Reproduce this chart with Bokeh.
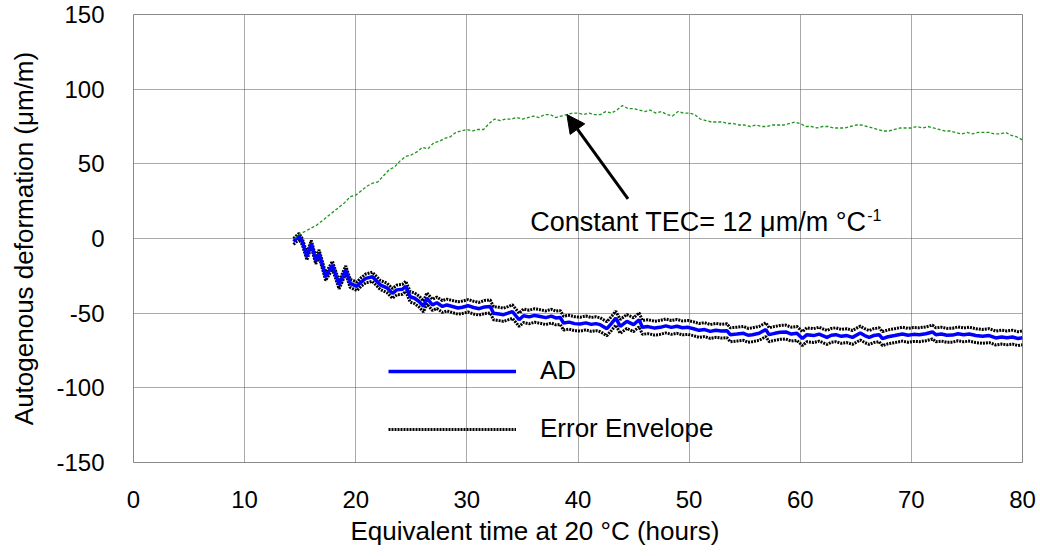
from bokeh.plotting import figure
from bokeh.models import (FixedTicker, Legend, LegendItem, Label, Arrow,
                          NormalHead, Title, Range1d)
from bokeh.embed import file_html
from bokeh.resources import INLINE

# ---------------- data ----------------
t_ad = [14.4, 14.9, 15.2, 15.6, 16.0, 16.4, 16.7, 17.3, 17.9, 18.5,
        19.1, 19.5, 20.1, 20.5, 20.9, 21.5, 22.2, 22.8, 23.3, 23.7,
        24.2, 24.5, 24.9, 25.3, 25.7, 26.1, 26.4, 26.9, 27.3, 27.8,
        28.2, 28.7, 29.2, 29.6, 30.1, 30.6, 31.1, 31.6, 32.1, 32.4,
        32.9, 33.3, 33.7, 34.1, 34.7, 35.1, 35.6, 36.1, 36.6, 37.1,
        37.6, 38.0, 38.4, 38.7, 39.2, 39.7, 40.2, 40.7, 41.2, 41.6,
        42.0, 42.6, 43.0, 43.4, 43.8, 44.4, 45.0, 45.5, 45.8, 46.3,
        46.9, 47.4, 47.9, 48.4, 48.9, 49.4, 49.9, 50.4, 50.9, 51.4,
        51.9, 52.4, 52.9, 53.4, 53.7, 54.3, 54.9, 55.3, 55.7, 56.3,
        56.9, 57.2, 57.7, 58.2, 58.7, 59.2, 59.7, 60.2, 60.6, 61.2,
        61.7, 62.4, 62.8, 63.2, 63.7, 64.2, 64.7, 65.4, 65.8, 66.2,
        66.6, 67.1, 67.4, 67.9, 68.5, 69.2, 69.7, 70.2, 70.7, 71.3,
        71.9, 72.2, 72.7, 73.2, 73.7, 74.2, 74.7, 75.2, 75.8, 76.4,
        77.0, 77.6, 78.1, 78.6, 79.1, 79.6, 80.0]

ad = [-2.0, 1.5, -2.3, -12.0, -3.5, -14.5, -10.0, -25.6, -17.8, -31.0,
      -21.0, -30.0, -32.0, -29.0, -26.7, -25.6, -31.0, -33.0, -36.7, -34.4,
      -34.0, -32.0, -39.0, -40.0, -42.2, -45.5, -40.0, -44.4, -43.0, -45.5,
      -44.5, -45.5, -46.5, -46.0, -45.0, -46.2, -47.0, -45.8, -45.5, -50.0,
      -50.5, -51.0, -50.0, -48.9, -54.4, -51.7, -52.5, -51.5, -52.2, -53.0,
      -52.0, -53.2, -52.9, -56.6, -56.0, -57.0, -57.3, -56.5, -57.5, -57.0,
      -57.7, -60.4, -57.0, -53.3, -58.8, -55.5, -57.7, -54.4, -59.5, -59.0,
      -60.0, -59.5, -58.5, -59.5, -58.8, -59.8, -59.5, -60.4, -61.5, -61.0,
      -62.2, -61.5, -62.0, -61.7, -64.4, -64.0, -63.5, -64.8, -64.4, -63.5,
      -61.0, -64.4, -63.5, -62.8, -62.6, -64.0, -63.5, -67.0, -64.4, -65.0,
      -64.0, -66.2, -64.8, -64.4, -65.5, -65.0, -66.2, -63.3, -65.0, -66.2,
      -65.0, -64.4, -67.0, -65.8, -65.0, -64.0, -64.8, -64.2, -64.4, -63.8,
      -62.6, -64.4, -64.0, -64.8, -64.7, -63.8, -64.5, -64.0, -65.0, -65.5,
      -65.0, -66.6, -66.0, -66.5, -66.0, -67.0, -66.5]

env_upper = [0.0, 3.5, -0.3, -9.8, -1.3, -12.2, -7.6, -23.2, -15.3, -28.4,
             -18.4, -27.3, -29.2, -26.1, -23.8, -22.6, -28.0, -29.9, -33.5, -31.2,
             -30.7, -28.6, -35.5, -36.5, -38.6, -41.9, -36.4, -40.7, -39.2, -41.6,
             -40.6, -41.5, -42.4, -41.9, -40.9, -42.0, -42.8, -41.5, -41.2, -45.7,
             -46.1, -46.6, -45.6, -44.4, -50.0, -47.2, -48.0, -47.0, -47.7, -48.5,
             -47.4, -48.6, -48.3, -52.0, -51.4, -52.4, -52.7, -51.9, -52.9, -52.4,
             -53.1, -55.8, -52.4, -48.7, -54.2, -50.9, -53.1, -49.8, -54.9, -54.4,
             -55.4, -54.9, -53.9, -54.9, -54.2, -55.2, -54.9, -55.8, -56.9, -56.4,
             -57.6, -56.9, -57.4, -57.1, -59.8, -59.4, -58.9, -60.2, -59.8, -58.9,
             -56.4, -59.8, -58.9, -58.2, -58.0, -59.4, -58.9, -62.4, -59.8, -60.4,
             -59.4, -61.6, -60.2, -59.8, -60.9, -60.4, -61.6, -58.7, -60.4, -61.6,
             -60.4, -59.8, -62.4, -61.2, -60.4, -59.4, -60.2, -59.6, -59.8, -59.2,
             -58.0, -59.8, -59.4, -60.2, -60.1, -59.2, -59.9, -59.4, -60.4, -60.9,
             -60.4, -62.0, -61.4, -61.9, -61.4, -62.4, -61.9]

env_lower = [-4.0, -0.5, -4.5, -14.3, -5.8, -16.9, -12.5, -28.1, -20.4, -33.7,
             -23.7, -32.8, -34.9, -31.9, -29.7, -28.7, -34.1, -36.2, -40.0, -37.7,
             -37.4, -35.4, -42.6, -43.6, -45.9, -49.2, -43.7, -48.2, -46.9, -49.5,
             -48.5, -49.6, -50.7, -50.2, -49.2, -50.5, -51.3, -50.2, -49.9, -54.4,
             -55.0, -55.5, -54.5, -53.4, -58.9, -56.3, -57.1, -56.1, -56.8, -57.6,
             -56.6, -57.8, -57.5, -61.3, -60.7, -61.7, -62.0, -61.2, -62.2, -61.7,
             -62.4, -65.1, -61.7, -58.0, -63.5, -60.2, -62.4, -59.1, -64.2, -63.7,
             -64.7, -64.2, -63.2, -64.2, -63.5, -64.5, -64.2, -65.1, -66.2, -65.7,
             -66.9, -66.2, -66.7, -66.4, -69.1, -68.7, -68.2, -69.5, -69.1, -68.2,
             -65.7, -69.1, -68.2, -67.5, -67.3, -68.7, -68.2, -71.7, -69.1, -69.7,
             -68.7, -70.9, -69.5, -69.1, -70.2, -69.7, -70.9, -68.0, -69.7, -70.9,
             -69.7, -69.1, -71.7, -70.5, -69.7, -68.7, -69.5, -68.9, -69.1, -68.5,
             -67.3, -69.1, -68.7, -69.5, -69.4, -68.5, -69.2, -68.7, -69.7, -70.2,
             -69.7, -71.3, -70.7, -71.2, -70.7, -71.7, -71.2]

t_tec = [14.5, 15.0, 15.5, 16.0, 16.5, 17.0, 17.5, 18.0, 18.5, 19.0,
         19.5, 20.0, 20.5, 21.0, 21.5, 22.0, 22.5, 23.0, 23.5, 24.0,
         24.5, 25.0, 25.5, 26.0, 26.5, 27.0, 27.5, 28.0, 28.5, 29.0,
         29.5, 30.0, 30.5, 31.0, 31.5, 32.0, 32.5, 33.0, 33.5, 34.0,
         34.5, 35.0, 35.5, 36.0, 36.5, 37.0, 37.5, 38.0, 38.5, 39.0,
         39.5, 40.0, 40.5, 41.0, 41.5, 42.0, 42.5, 43.0, 43.5, 44.0,
         44.5, 45.0, 45.5, 46.0, 46.5, 47.0, 47.5, 48.0, 48.5, 49.0,
         49.5, 50.0, 50.5, 51.0, 51.5, 52.0, 52.5, 53.0, 53.5, 54.0,
         54.5, 55.0, 55.5, 56.0, 56.5, 57.0, 57.5, 58.0, 58.5, 59.0,
         59.5, 60.0, 60.5, 61.0, 61.5, 62.0, 62.5, 63.0, 63.5, 64.0,
         64.5, 65.0, 65.5, 66.0, 66.5, 67.0, 67.5, 68.0, 68.5, 69.0,
         69.5, 70.0, 70.5, 71.0, 71.5, 72.0, 72.5, 73.0, 73.5, 74.0,
         74.5, 75.0, 75.5, 76.0, 76.5, 77.0, 77.5, 78.0, 78.5, 79.0,
         79.5, 80.0]

ad_const_tec = [0, 3, 5, 7, 9, 12, 15, 18, 21, 24,
                28, 29, 32, 35, 37, 38, 42, 46, 48, 52,
                55, 56, 58, 61, 60, 64, 65, 67, 68, 71,
                72, 73, 72, 73, 73, 77, 80, 79, 80, 80,
                81, 80, 81, 82, 81, 83, 83, 81, 82, 83,
                84, 84, 83, 84, 83, 83, 85, 84, 86, 89,
                87, 87, 86, 85, 86, 84, 85, 83, 82, 85,
                84, 84, 83, 80, 79, 78, 78, 78, 77, 77,
                76, 76, 75, 76, 75, 75, 76, 76, 76, 77,
                78, 77, 75, 75, 74, 75, 75, 74, 74, 74,
                75, 76, 76, 75, 74, 73, 72, 72, 73, 74,
                74, 74, 75, 74, 75, 74, 73, 72, 72, 71,
                70, 71, 70, 71, 71, 71, 70, 70, 71, 69,
                68, 66]

x_ticks = [0, 10, 20, 30, 40, 50, 60, 70, 80]
y_ticks = [-150, -100, -50, 0, 50, 100, 150]
y_tick_labels = ["-150", "-100", "-50", "0", "50", "100", "150"]

annot_text = "Constant TEC= 12 \u03bcm/m \u00b0C"
annot_sup = "-1"
annot_pos = (35.7, 11.0)
arrow_from = (44.5, 26.5)
arrow_to = (39.0, 83.0)

FONT = "Liberation Sans"

# ---------------- figure ----------------
p = figure(width=1040, height=556, output_backend="svg", toolbar_location=None,
           x_range=Range1d(0, 80), y_range=Range1d(-150, 150),
           min_border_left=133, min_border_right=18, min_border_top=14,
           min_border_bottom=94, background_fill_color="white",
           border_fill_color="white")

p.outline_line_color = "#8a8a8a"
p.outline_line_width = 1

for ax in (p.xaxis[0], p.yaxis[0]):
    ax.axis_line_color = None
    ax.major_tick_line_color = None
    ax.minor_tick_line_color = None
    ax.major_label_text_font = FONT
    ax.major_label_text_font_size = "24px"
    ax.major_label_text_color = "black"

p.xaxis.ticker = FixedTicker(ticks=x_ticks)
p.yaxis.ticker = FixedTicker(ticks=y_ticks)
p.yaxis.major_label_overrides = {t: s for t, s in zip(y_ticks, y_tick_labels)}
p.xaxis.major_label_standoff = 22
p.yaxis.major_label_standoff = 23

p.yaxis.axis_label = "Autogenous deformation (\u03bcm/m)"
p.yaxis.axis_label_text_font = FONT
p.yaxis.axis_label_text_font_size = "26px"
p.yaxis.axis_label_text_font_style = "normal"
p.yaxis.axis_label_text_color = "black"
p.yaxis.axis_label_standoff = 14

p.add_layout(Title(text="Equivalent time at 20 \u00b0C (hours)", align="left",
                   offset=217, text_font=FONT, text_font_size="26px",
                   text_font_style="normal", text_color="black", standoff=6),
             "below")

p.xgrid.ticker = FixedTicker(ticks=x_ticks)
p.ygrid.ticker = FixedTicker(ticks=y_ticks)
for g in (p.xgrid[0], p.ygrid[0]):
    g.grid_line_color = "#555555"
    g.grid_line_dash = "1 1"
    g.grid_line_width = 1

# ---------------- series ----------------
r_up = p.line(t_ad, env_upper, line_color="black", line_width=3, line_dash="2 1")
r_lo = p.line(t_ad, env_lower, line_color="black", line_width=3, line_dash="2 1")
r_ad = p.line(t_ad, ad, line_color="#0000ff", line_width=3.5)
r_tec = p.line(t_tec, ad_const_tec, line_color="#1e961e", line_width=1.3,
               line_dash="3 2")

# ---------------- annotation ----------------
p.add_layout(Arrow(end=NormalHead(size=18, fill_color="black", line_color="black"),
                   x_start=arrow_from[0], y_start=arrow_from[1],
                   x_end=arrow_to[0], y_end=arrow_to[1],
                   line_color="black", line_width=3))
p.add_layout(Label(x=annot_pos[0], y=annot_pos[1], text=annot_text,
                   text_font=FONT, text_font_size="27px", text_color="black",
                   text_baseline="middle", text_align="left"))
p.add_layout(Label(x=annot_pos[0], y=annot_pos[1], text=annot_sup,
                   x_offset=337, y_offset=7,
                   text_font=FONT, text_font_size="16px", text_color="black",
                   text_baseline="middle", text_align="left"))

# ---------------- legend ----------------
legend = Legend(items=[LegendItem(label="AD", renderers=[r_ad]),
                       LegendItem(label="Error Envelope", renderers=[r_up])],
                location=(255, 18), orientation="vertical",
                glyph_width=128, glyph_height=26, label_height=26,
                label_standoff=24, spacing=27, padding=0, margin=0,
                background_fill_alpha=0, border_line_alpha=0,
                label_text_font=FONT, label_text_font_size="26px",
                label_text_color="black")
p.add_layout(legend)

open("out.html", "w").write(file_html(p, INLINE))
